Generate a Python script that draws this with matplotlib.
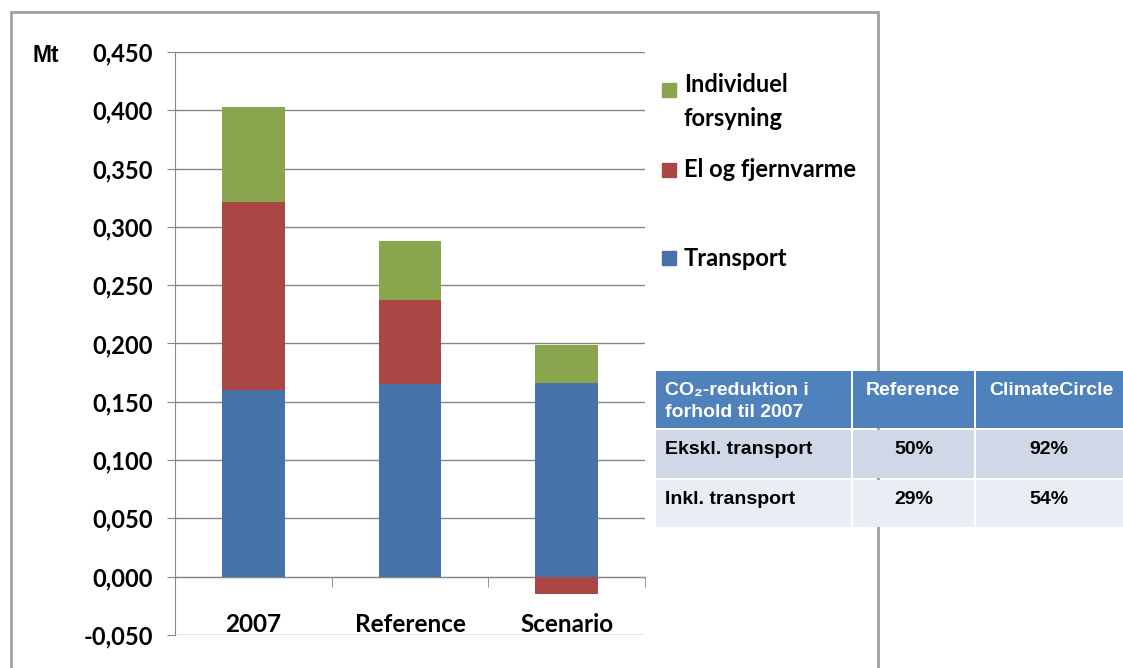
import numpy as np
import matplotlib.pyplot as plt
from matplotlib.patches import Rectangle

categories = ['2007', 'Reference', 'Scenario']
transport = [0.160, 0.165, 0.166]
el_fjernvarme = [0.161, 0.072, -0.015]
individuel = [0.082, 0.051, 0.033]

table_header = ['CO\u2082-reduktion i\nforhold til 2007', 'Reference', 'ClimateCircle']
table_rows = [['Ekskl. transport', '50%', '92%'],
              ['Inkl. transport', '29%', '54%']]

W, H = 1123, 668
blue, red, green = '#4572A7', '#AA4643', '#89A54E'
font = 'Lato'

fig = plt.figure(figsize=(W / 100, H / 100), dpi=100)

def fx(x):
    return x / W

def fy(y):
    return 1 - y / H

# outer chart frame
fig.add_artist(Rectangle((fx(11), fy(700)), fx(878) - fx(11), fy(12) - fy(700),
                         fill=False, edgecolor='#A0A0A0', linewidth=2))

ax = fig.add_axes([fx(175), fy(635), fx(645) - fx(175), fy(52) - fy(635)])
x = np.arange(len(categories))
w = 0.4

pos_bottom = np.zeros(len(categories))
neg_bottom = np.zeros(len(categories))
for vals, col, name in [(transport, blue, 'Transport'),
                        (el_fjernvarme, red, 'El og fjernvarme'),
                        (individuel, green, 'Individuel\nforsyning')]:
    vals = np.array(vals)
    bottom = np.where(vals >= 0, pos_bottom, neg_bottom)
    ax.bar(x, vals, w, bottom=bottom, color=col, label=name, zorder=3)
    pos_bottom += np.where(vals >= 0, vals, 0)
    neg_bottom += np.where(vals < 0, vals, 0)

yt = np.arange(-0.05, 0.451, 0.05)
ax.set_xlim(-0.5, 2.5)
ax.set_ylim(-0.05, 0.45)
ax.set_yticks(yt)
ax.set_yticklabels([f'{v:.3f}'.replace('.', ',').replace('-0,000', '0,000') for v in yt],
                   fontfamily=font, fontweight='bold', fontsize=17)
ax.yaxis.grid(True, color='#868686', linewidth=1, zorder=0)
ax.tick_params(axis='y', length=6, color='#868686', pad=10)

ax.spines['bottom'].set_position(('data', 0))
ax.spines['bottom'].set_color('#868686')
ax.spines['left'].set_color('#868686')
ax.spines['top'].set_visible(False)
ax.spines['right'].set_visible(False)
ax.set_xticks(x)
ax.set_xticklabels(categories, fontfamily=font, fontweight='bold', fontsize=17.5)
ax.tick_params(axis='x', length=0, pad=26)
ax.set_xticks([0.5, 1.5, 2.5], minor=True)
ax.tick_params(axis='x', which='minor', length=7, color='#868686')

fig.text(fx(32), fy(56), 'Mt', fontfamily='Liberation Sans', fontweight='bold',
         fontsize=16.5, va='center', ha='left')

# legend (top to bottom: Individuel, El, Transport)
handles, labels = ax.get_legend_handles_labels()
square_y = [90, 170, 258]
text_y = [84, 170, 259]
for h, lab, sy, ty in zip(handles[::-1], labels[::-1], square_y, text_y):
    fig.add_artist(Rectangle((fx(662), fy(sy + 7)), fx(14), fy(0) - fy(14),
                             color=h.patches[0].get_facecolor()))
    for i, line in enumerate(lab.split('\n')):
        fig.text(fx(684), fy(ty + 34 * i), line, fontfamily=font, fontweight='bold',
                 fontsize=17, va='center', ha='left')

# table
col_x = [655, 852, 975, 1123]
row_y = [370, 429, 479, 528]
row_colors = ['#4F81BD', '#D0D8E8', '#E9EDF4']
cells = [table_header] + table_rows
for r in range(3):
    for c in range(3):
        x0, x1 = col_x[c] + 1, col_x[c + 1] - 1
        y0, y1 = row_y[r] + 1, row_y[r + 1] - 1
        ext = 10 if c == 2 else 0
        fig.add_artist(Rectangle((fx(x0), fy(y1)), fx(x1 + ext) - fx(x0), fy(y0) - fy(y1),
                                 facecolor=row_colors[r], edgecolor='none'))
        txt = cells[r][c]
        tcol = 'white' if r == 0 else 'black'
        if r > 0 and c > 0:
            tx, ha = (x0 + x1) / 2, 'center'
        elif c == 0:
            tx, ha = x0 + 9, 'left'
        else:
            tx, ha = x0 + 13, 'left'
        fig.text(fx(tx), fy(y0 + 11), txt, color=tcol, fontfamily='Liberation Sans',
                 fontweight='bold', fontsize=14, ha=ha, va='top', linespacing=1.35)

fig.savefig('out.png', dpi=100)
